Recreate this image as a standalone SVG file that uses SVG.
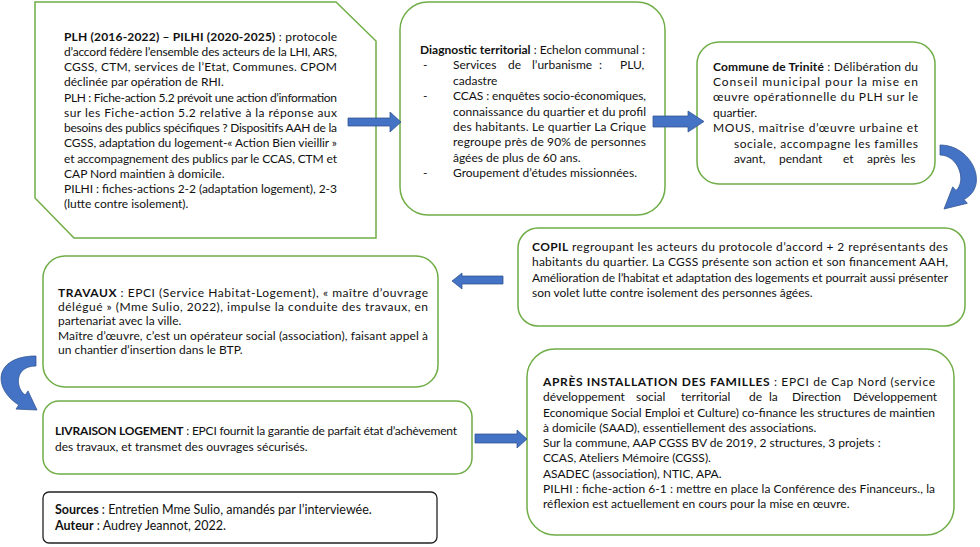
<svg xmlns="http://www.w3.org/2000/svg" width="980" height="547" viewBox="0 0 980 547">
<style>
.box{fill:#fff;stroke:#70AD47;stroke-width:1.5}
.src{fill:#fff;stroke:#222;stroke-width:1.3}
.t{font-family:Lato,"Liberation Sans",sans-serif;font-size:12px;fill:#111}
.b{font-weight:bold}
.arr{fill:#4472C4;stroke:#2F528F;stroke-width:0.75}
</style>
<rect width="980" height="547" fill="#fff"/>

<g id="n1">
<path class="box" d="M35 2 L336 2 L376 41 L376 238 L74 238 L35 198 Z"/>
<text class="t" x="64" y="40.5" textLength="273" lengthAdjust="spacing"><tspan class="b">PLH (2016-2022) – PILHI (2020-2025)</tspan> : protocole</text>
<text class="t" x="64" y="55.8" textLength="273" lengthAdjust="spacing">d’accord fédère l’ensemble des acteurs de la LHI, ARS,</text>
<text class="t" x="64" y="71" textLength="273" lengthAdjust="spacing">CGSS, CTM, services de l’Etat, Communes. CPOM</text>
<text class="t" x="64" y="86.3">déclinée par opération de RHI.</text>
<text class="t" x="64" y="101.5" textLength="273" lengthAdjust="spacing">PLH : Fiche-action 5.2 prévoit une action d’information</text>
<text class="t" x="64" y="116.8" textLength="273" lengthAdjust="spacing">sur les Fiche-action 5.2 relative à la réponse aux</text>
<text class="t" x="64" y="132" textLength="273" lengthAdjust="spacing">besoins des publics spécifiques ? Dispositifs AAH de la</text>
<text class="t" x="64" y="147.3" textLength="273" lengthAdjust="spacing">CGSS, adaptation du logement-« Action Bien vieillir »</text>
<text class="t" x="64" y="162.5" textLength="273" lengthAdjust="spacing">et accompagnement des publics par le CCAS, CTM et</text>
<text class="t" x="64" y="177.8">CAP Nord maintien à domicile.</text>
<text class="t" x="64" y="193" textLength="273" lengthAdjust="spacing">PILHI : fiches-actions 2-2 (adaptation logement), 2-3</text>
<text class="t" x="64" y="208.3">(lutte contre isolement).</text>
</g>

<g id="n2">
<rect class="box" x="400" y="2" width="265" height="213" rx="28"/>
<text class="t" x="420" y="54"><tspan class="b">Diagnostic territorial</tspan> : Echelon communal :</text>
<text class="t" x="423" y="69.4">-</text>
<text class="t" y="69.4"><tspan x="453">Services</tspan><tspan x="508">de</tspan><tspan x="532">l’urbanisme</tspan><tspan x="599">:</tspan><tspan x="620">PLU,</tspan></text>
<text class="t" x="453" y="84.8">cadastre</text>
<text class="t" x="423" y="100.2">-</text>
<text class="t" x="453" y="100.2" textLength="193" lengthAdjust="spacing">CCAS : enquêtes socio-économiques,</text>
<text class="t" x="453" y="115.6" textLength="193" lengthAdjust="spacing">connaissance du quartier et du profil</text>
<text class="t" x="453" y="131" textLength="193" lengthAdjust="spacing">des habitants. Le quartier La Crique</text>
<text class="t" x="453" y="146.4" textLength="193" lengthAdjust="spacing">regroupe près de 90% de personnes</text>
<text class="t" x="453" y="161.8">âgées de plus de 60 ans.</text>
<text class="t" x="423" y="177.2">-</text>
<text class="t" x="453" y="177.2">Groupement d’études missionnées.</text>
</g>

<g id="n3">
<rect class="box" x="697" y="42" width="238" height="142" rx="22"/>
<text class="t" x="713" y="70.5" textLength="205" lengthAdjust="spacing"><tspan class="b">Commune de Trinité</tspan> : Délibération du</text>
<text class="t" x="713" y="85.9" textLength="205" lengthAdjust="spacing">Conseil municipal pour la mise en</text>
<text class="t" x="713" y="101.3" textLength="205" lengthAdjust="spacing">œuvre opérationnelle du PLH sur le</text>
<text class="t" x="713" y="116.7">quartier.</text>
<text class="t" x="713" y="132.1" textLength="205" lengthAdjust="spacing">MOUS, maîtrise d’œuvre urbaine et</text>
<text class="t" x="734" y="147.5" textLength="184" lengthAdjust="spacing">sociale, accompagne les familles</text>
<text class="t" y="162.9"><tspan x="734">avant,</tspan><tspan x="779">pendant</tspan><tspan x="843">et</tspan><tspan x="867">après</tspan><tspan x="901">les</tspan></text>
</g>

<g id="n4">
<rect class="box" x="518" y="228" width="447" height="98" rx="20"/>
<text class="t" x="532" y="251" textLength="416" lengthAdjust="spacing"><tspan class="b">COPIL</tspan> regroupant les acteurs du protocole d’accord + 2 représentants des</text>
<text class="t" x="532" y="266.3" textLength="416" lengthAdjust="spacing">habitants du quartier. La CGSS présente son action et son financement AAH,</text>
<text class="t" x="532" y="281.6" textLength="416" lengthAdjust="spacing">Amélioration de l’habitat et adaptation des logements et pourrait aussi présenter</text>
<text class="t" x="532" y="296.9">son volet lutte contre isolement des personnes âgées.</text>
</g>

<g id="n5">
<rect class="box" x="43" y="256" width="395" height="131" rx="22"/>
<text class="t" x="58" y="296.5" textLength="370" lengthAdjust="spacing"><tspan class="b">TRAVAUX</tspan> : EPCI (Service Habitat-Logement), « maître d’ouvrage</text>
<text class="t" x="58" y="310.9" textLength="370" lengthAdjust="spacing">délégué » (Mme Sulio, 2022), impulse la conduite des travaux, en</text>
<text class="t" x="58" y="325.3">partenariat avec la ville.</text>
<text class="t" x="58" y="339.7" textLength="370" lengthAdjust="spacing">Maître d’œuvre, c’est un opérateur social (association), faisant appel à</text>
<text class="t" x="58" y="354.1">un chantier d’insertion dans le BTP.</text>
</g>

<g id="n6">
<rect class="box" x="43" y="401" width="429" height="73" rx="16"/>
<text class="t" x="55" y="435" textLength="402" lengthAdjust="spacing"><tspan class="b">LIVRAISON LOGEMENT</tspan> : EPCI fournit la garantie de parfait état d’achèvement</text>
<text class="t" x="55" y="450.5">des travaux, et transmet des ouvrages sécurisés.</text>
</g>

<g id="n7">
<rect class="box" x="527" y="349" width="427" height="186" rx="28"/>
<text class="t" x="543" y="386" textLength="392" lengthAdjust="spacing"><tspan class="b">APRÈS INSTALLATION DES FAMILLES</tspan> : EPCI de Cap Nord (service</text>
<text class="t" y="401.3"><tspan x="543">développement</tspan><tspan x="636">social</tspan><tspan x="681">territorial</tspan><tspan x="749">de</tspan><tspan x="769">la</tspan><tspan x="792">Direction</tspan><tspan x="853">Développement</tspan></text>
<text class="t" x="543" y="416.5" textLength="392" lengthAdjust="spacing">Economique Social Emploi et Culture) co-finance les structures de maintien</text>
<text class="t" x="543" y="431.8">à domicile (SAAD), essentiellement des associations.</text>
<text class="t" x="543" y="447">Sur la commune, AAP CGSS BV de 2019, 2 structures, 3 projets :</text>
<text class="t" x="543" y="462.3">CCAS, Ateliers Mémoire (CGSS).</text>
<text class="t" x="543" y="477.5">ASADEC (association), NTIC, APA.</text>
<text class="t" x="543" y="492.8" textLength="392" lengthAdjust="spacing">PILHI : fiche-action 6-1 : mettre en place la Conférence des Financeurs., la</text>
<text class="t" x="543" y="508">réflexion est actuellement en cours pour la mise en œuvre.</text>
</g>

<g id="sources">
<rect class="src" x="43" y="492" width="394" height="51" rx="6"/>
<text class="t" x="55" y="514" style="font-size:12.5px"><tspan class="b">Sources</tspan> : Entretien Mme Sulio, amandés par l’interviewée.</text>
<text class="t" x="55" y="530" style="font-size:12.5px"><tspan class="b">Auteur</tspan> : Audrey Jeannot, 2022.</text>
</g>

<g id="connectors">
<path class="arr" d="M348 118 L390 118 L390 112 L401 122 L390 132 L390 126 L348 126 Z"/>
<path class="arr" d="M653 116 L688 116 L688 111 L704 121.5 L688 132 L688 127 L653 127 Z"/>
<path class="arr" d="M940 145 C972 145, 990 186, 964 199.5 L967.3 203.3 L944 209 L952.7 186.8 L956 190.5 C967 180.6, 958 155, 940 155 Z"/>
<path class="arr" d="M503 276 L462 276 L462 273 L452 281 L462 289 L462 284 L503 284 Z"/>
<path class="arr" d="M36 356 C-6 356, -8 388, 18.7 405 L16 409.1 L37 410 L28 390.9 L25.3 395 C15.3 388.4, 14 366, 36 366 Z"/>
<path class="arr" d="M475 434 L517 434 L517 430 L527 439 L517 448 L517 443 L475 443 Z"/>
</g>
</svg>
